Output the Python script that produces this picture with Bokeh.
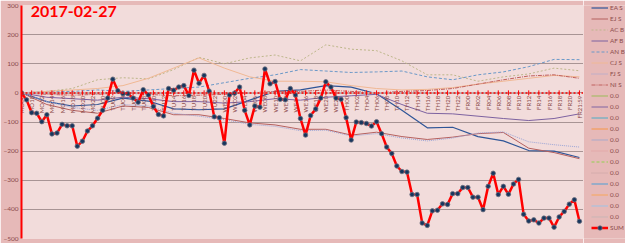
import math
from bokeh.plotting import figure
from bokeh.layouts import row
from bokeh.models import Range1d, Span, Label, Legend, LegendItem, FixedTicker
from bokeh.core.properties import value
from bokeh.embed import file_html
from bokeh.resources import INLINE

# ---------------- data ----------------
days = ["MO", "TU", "WE", "TH", "FR"]
start_hour = 8
n_hourly = 110
categories = [f"{days[(start_hour + i) // 24]}{(start_hour + i) % 24:02d}" for i in range(n_hourly)] + ["FR21:59"]
x_idx = list(range(len(categories)))
tick_idx = list(range(0, 110, 2)) + [110]
tick_labels = [categories[i] for i in tick_idx]

sum_vals = [0, -24, -68, -70, -99, -75, -141, -138, -108, -113,
            -113, -183, -166, -131, -113, -87, -60, -18, 47, 7,
            -3, -3, -18, -32, 11, -7, -47, -74, -79, 15,
            9, 20, 25, -9, 78, 33, 60, 6, -82, -85,
            -173, -7, -1, 20, -60, -110, -45, -49, 82, 31,
            39, -22, -24, 15, -7, -88, -145, -78, -55, -18,
            38, 20, -18, -22, -85, -162, -100, -102, -105, -114,
            -99, -140, -186, -208, -251, -270, -272, -349, -349, -447,
            -455, -405, -403, -381, -383, -346, -346, -325, -325, -358,
            -358, -401, -321, -276, -349, -321, -348, -313, -297, -417,
            -440, -436, -447, -430, -430, -461, -426, -407, -382, -367,
            -441]

sample_idx = [0, 5, 10, 15, 20, 25, 30, 35, 40, 45, 50, 55, 60, 65, 70, 75, 80, 85, 90, 95, 100, 105, 110]
ea_s = [0, -30, -45, -40, -18, -28, -55, -58, -55, -25, 5, 10, 25, 20, -3, -60, -120, -118, -150, -165, -198, -200, -222]
ej_s = [0, -40, -60, -70, -45, -50, -75, -75, -88, -103, -110, -125, -125, -145, -135, -150, -160, -152, -140, -136, -190, -205, -226]
ac_b = [0, 5, 15, 45, 52, 48, 80, 122, 100, 120, 130, 110, 165, 150, 145, 110, 62, 62, 40, 55, 65, 85, 76]
af_b = [0, -15, -20, -25, -15, -20, -30, -30, -35, -30, -20, -25, -15, -10, -5, -40, -70, -72, -80, -88, -95, -88, -72]
an_b = [0, 5, 5, 10, 5, 10, 15, 20, 35, 50, 62, 80, 75, 70, 72, 75, 55, 45, 62, 72, 90, 115, 114]
cj_s = [0, 5, 10, 15, 25, 50, 85, 120, 85, 55, 40, 40, 38, 25, 15, 10, 12, 18, 30, 40, 50, 60, 55]
fj_s = [0, -30, -50, -60, -40, -45, -70, -80, -92, -108, -115, -130, -128, -148, -140, -155, -165, -155, -138, -134, -168, -178, -186]
ni_s = [0, -5, -8, -5, 0, -5, -10, -8, -5, 0, 5, 5, 10, 5, 0, 5, 8, 15, 30, 45, 58, 62, 50]
zero_series = [0.0] * len(categories)

series = [
    ("EA S", ea_s, "#2f5597", 1.2, "solid"),
    ("EJ S", ej_s, "#b5605e", 1.0, "solid"),
    ("AC B", ac_b, "#bdb68a", 1.0, "2 2"),
    ("AF B", af_b, "#7d62a0", 1.0, "solid"),
    ("AN B", an_b, "#6a98c8", 1.0, "3 2"),
    ("CJ S", cj_s, "#f0b894", 1.0, "solid"),
    ("FJ S", fj_s, "#9aa4d6", 1.0, "1 1"),
    ("NI S", ni_s, "#c0605e", 1.0, "4 1 1 1"),
]
zero_styles = [
    ("#9bbb59", "solid"), ("#8064a2", "solid"), ("#4bacc6", "solid"), ("#f79646", "solid"),
    ("#a9a9c9", "solid"), ("#e09a9a", "1 1"), ("#92d050", "3 2"), ("#c4a0a0", "1 1"),
    ("#4f9fd6", "solid"), ("#f8a65a", "solid"), ("#9dc3e6", "solid"), ("#c9b5b5", "solid"),
]

y_ticks = [-500, -400, -300, -200, -100, 0, 100, 200, 300]
OUTER = "#e6b9b8"
INNER = "#f2dcdb"
TXT = "#8c4b4b"

# ---------------- main figure ----------------
p = figure(width=583, height=243, output_backend="svg", toolbar_location=None,
           x_range=Range1d(0, 110.8), y_range=Range1d(-500, 300),
           x_axis_location=None,
           min_border_left=21, min_border_right=0, min_border_top=5, min_border_bottom=5,
           background_fill_color=INNER, border_fill_color=OUTER,
           outline_line_color=None)
p.xgrid.visible = False
p.yaxis.ticker = FixedTicker(ticks=y_ticks)
p.ygrid.ticker = FixedTicker(ticks=y_ticks)
p.ygrid.grid_line_color = "#a89494"
p.ygrid.grid_line_width = 1
p.yaxis.axis_line_color = "#ff0000"
p.yaxis.axis_line_width = 2
p.yaxis.major_tick_line_color = None
p.yaxis.minor_tick_line_color = None
p.yaxis.major_tick_out = 0
p.yaxis.major_tick_in = 0
p.yaxis.minor_tick_out = 0
p.yaxis.major_label_text_font_size = "6.5px"
p.yaxis.major_label_text_color = TXT
p.yaxis.major_label_text_font = "Lato"
p.yaxis.major_label_standoff = 3

# legend panel figure (series drawn again there, outside its visible range)
lg = figure(width=42, height=243, output_backend="svg", toolbar_location=None,
            x_range=Range1d(0, 1), y_range=Range1d(5000, 6000),
            x_axis_location=None, y_axis_location=None,
            min_border_left=0, min_border_right=0, min_border_top=0, min_border_bottom=0,
            background_fill_color=OUTER, border_fill_color=OUTER, outline_line_color=None)
lg.grid.visible = False

items = []
for name, vals, color, w, dash in series:
    p.line(sample_idx, vals, line_color=color, line_width=w, line_dash=dash)
    r = lg.line(sample_idx, vals, line_color=color, line_width=w, line_dash=dash)
    items.append(LegendItem(label=name, renderers=[r]))
for color, dash in zero_styles:
    p.line(x_idx, zero_series, line_color=color, line_width=1, line_dash=dash)
    r = lg.line(x_idx, zero_series, line_color=color, line_width=1, line_dash=dash)
    items.append(LegendItem(label="0.0", renderers=[r]))

# category axis at zero
p.add_layout(Span(location=0, dimension="width", line_color="#ff0000", line_width=1.5, line_dash="2 2"))
p.scatter(tick_idx, [0] * len(tick_idx), marker="dash", angle=math.pi / 2,
          size=5, line_color="#ff0000", line_width=1)
p.text(tick_idx, [0] * len(tick_idx), text=tick_labels, angle=math.pi / 2,
       text_align="right", text_baseline="middle", y_offset=3,
       text_font=value("Lato"), text_font_size="6px", text_color=TXT)

p.line(x_idx, sum_vals, line_color="#ff0000", line_width=2.5)
p.scatter(x_idx, sum_vals, marker="circle", size=4.5, fill_color="#17375e",
          line_color="#6f6f7f", line_width=0.8)
l_line = lg.line(x_idx, sum_vals, line_color="#ff0000", line_width=2.5)
l_pts = lg.scatter(x_idx, sum_vals, marker="circle", size=4.5, fill_color="#17375e",
                   line_color="#6f6f7f", line_width=0.8)
items.append(LegendItem(label="SUM", renderers=[l_line, l_pts]))

p.add_layout(Label(x=1.8, y=297, text="2017-02-27", text_font="Lato",
                   text_font_style="bold", text_font_size="16px", text_color="#ff0000",
                   text_baseline="top", text_align="left"))

legend = Legend(items=items, location=(6, 3), orientation="vertical",
                label_text_font_size="6.3px", label_text_color=TXT, label_text_font="Lato",
                glyph_width=17, glyph_height=11, label_height=11, label_standoff=2,
                spacing=0, padding=2, margin=0,
                background_fill_alpha=0, border_line_alpha=0)
lg.add_layout(legend)

layout = row(p, lg, spacing=0)
open("out.html", "w").write(file_html(layout, INLINE))
